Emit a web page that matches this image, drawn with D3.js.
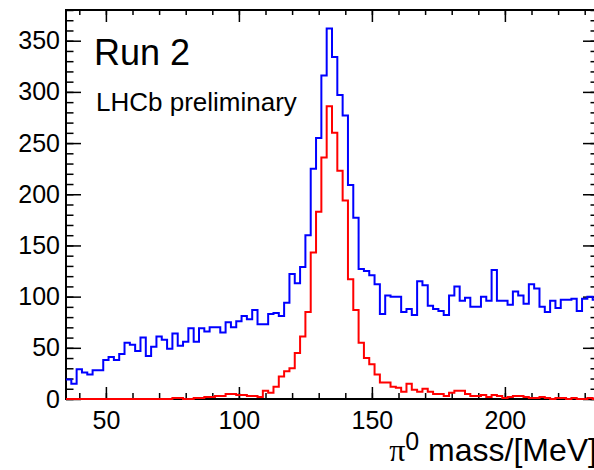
<!DOCTYPE html>
<html>
<head>
<meta charset="utf-8">
<script src="https://cdn.jsdelivr.net/npm/d3@7"></script>
<style>
  body { margin: 0; background: #fff; }
  svg { display: block; }
  .tick text { font-family: "Liberation Sans", Arial, sans-serif; fill: #000; }
  .tick line { stroke: #000; stroke-width: 1.5; }
</style>
</head>
<body>
<div id="chart"></div>
<script>
// Histogram bins: 2 MeV wide, low edges from 35 to 233 MeV
const binEdges = d3.range(35, 235, 2);

// blue histogram (all candidates), counts per bin
const histBlue = [
  19, 15, 29, 26, 24, 28, 28, 38, 41, 38,
  44, 55, 53, 47, 60, 42, 51, 61, 58, 49,
  64, 52, 56, 69, 56, 69, 66, 70, 70, 65,
  75, 70, 76, 81, 78, 87, 73, 73, 83, 84,
  81, 94, 122, 113, 129, 160, 225, 255, 316, 362,
  334, 297, 277, 209, 177, 127, 125, 121, 112, 83,
  101, 100, 100, 85, 88, 82, 115, 111, 91, 88,
  86, 82, 101, 110, 96, 99, 90, 90, 100, 96,
  126, 96, 96, 92, 105, 101, 93, 112, 108, 90,
  85, 96, 89, 97, 97, 98, 86, 98, 100, 97
];

// red histogram (matched), counts per bin
const histRed = [
  0, 0, 0, 0, 0, 0, 0, 0, 0, 0,
  0, 0, 0, 0, 0, 0, 0, 0, 0, 0,
  1, 1, 0, 0, 1, 1, 2, 2, 3, 3,
  5, 5, 4, 4, 3, 3, 2, 8, 6, 12,
  22, 27, 30, 45, 61, 85, 143, 183, 236, 286,
  260, 223, 194, 117, 87, 55, 40, 34, 24, 16,
  16, 12, 11, 7, 15, 9, 7, 10, 7, 5,
  5, 3, 6, 8, 8, 5, 3, 3, 4, 2,
  4, 3, 1, 2, 3, 3, 2, 1, 1, 2,
  1, 0, 1, 1, 0, 1, 0, 0, 1, 0
];

const xMajor = [50, 100, 150, 200];
const xMinor = d3.range(40, 235, 10);
const yMajor = [0, 50, 100, 150, 200, 250, 300, 350];
const yMinor = d3.range(0, 381, 10);

const width = 594, height = 470;
const frame = {left: 66, top: 10, right: 598, bottom: 399};

const svg = d3.select("#chart").append("svg")
    .attr("width", width)
    .attr("height", height);

const x = d3.scaleLinear().domain([35, 235]).range([frame.left, frame.right]);
const y = d3.scaleLinear().domain([0, 380]).range([frame.bottom, frame.top]);

const gAxes = svg.append("g");

// bottom axis: labels + major ticks pointing inward
gAxes.append("g")
    .attr("transform", `translate(0,${frame.bottom})`)
    .call(d3.axisBottom(x).tickValues(xMajor).tickSizeInner(-12).tickSizeOuter(0).tickPadding(12))
    .call(g => g.select(".domain").remove())
    .call(g => g.selectAll("text").style("font-size", "25px"));
gAxes.append("g")
    .attr("transform", `translate(0,${frame.bottom})`)
    .call(d3.axisBottom(x).tickValues(xMinor).tickSizeInner(-6).tickSizeOuter(0).tickFormat(""))
    .call(g => g.select(".domain").remove());

// top axis mirror ticks
gAxes.append("g")
    .attr("transform", `translate(0,${frame.top})`)
    .call(d3.axisTop(x).tickValues(xMajor).tickSizeInner(-12).tickSizeOuter(0).tickFormat(""))
    .call(g => g.select(".domain").remove());
gAxes.append("g")
    .attr("transform", `translate(0,${frame.top})`)
    .call(d3.axisTop(x).tickValues(xMinor).tickSizeInner(-5).tickSizeOuter(0).tickFormat(""))
    .call(g => g.select(".domain").remove());

// left axis
gAxes.append("g")
    .attr("transform", `translate(${frame.left},0)`)
    .call(d3.axisLeft(y).tickValues(yMajor).tickSizeInner(-15).tickSizeOuter(0).tickPadding(6))
    .call(g => g.select(".domain").remove())
    .call(g => g.selectAll("text").style("font-size", "25px"));
gAxes.append("g")
    .attr("transform", `translate(${frame.left},0)`)
    .call(d3.axisLeft(y).tickValues(yMinor).tickSizeInner(-7.5).tickSizeOuter(0).tickFormat(""))
    .call(g => g.select(".domain").remove());

// right axis mirror ticks
gAxes.append("g")
    .attr("transform", `translate(${frame.right},0)`)
    .call(d3.axisRight(y).tickValues(yMajor).tickSizeInner(-15).tickSizeOuter(0).tickFormat(""))
    .call(g => g.select(".domain").remove());
gAxes.append("g")
    .attr("transform", `translate(${frame.right},0)`)
    .call(d3.axisRight(y).tickValues(yMinor).tickSizeInner(-7.5).tickSizeOuter(0).tickFormat(""))
    .call(g => g.select(".domain").remove());

// frame
svg.append("rect")
    .attr("x", frame.left)
    .attr("y", frame.top)
    .attr("width", frame.right - frame.left)
    .attr("height", frame.bottom - frame.top)
    .style("fill", "none")
    .style("stroke", "#000")
    .style("stroke-width", 2);

// step histograms
const stepLine = d3.line()
    .x(d => x(d[0]))
    .y(d => y(d[1]))
    .curve(d3.curveStepAfter);

function histPoints(vals) {
    const pts = binEdges.map((e, i) => [e, vals[i]]);
    pts.push([binEdges[binEdges.length - 1] + 2, vals[vals.length - 1]]);
    return pts;
}

const series = [
    {vals: histBlue, colour: "#0000ff"},
    {vals: histRed, colour: "#ff0000"}
];

svg.append("g").selectAll("path")
    .data(series)
    .join("path")
    .attr("d", d => stepLine(histPoints(d.vals)))
    .style("fill", "none")
    .style("stroke", d => d.colour)
    .style("stroke-width", 2);

// labels
svg.append("text")
    .attr("x", 94)
    .attr("y", 65)
    .style("font-family", "'Liberation Sans', Arial, sans-serif")
    .style("font-size", "36px")
    .text("Run 2");

svg.append("text")
    .attr("x", 96)
    .attr("y", 111)
    .style("font-family", "'Liberation Sans', Arial, sans-serif")
    .style("font-size", "26px")
    .text("LHCb preliminary");

// x axis title (right end sits under the frame edge, as in the original)
const xTitle = svg.append("text")
    .attr("x", 597)
    .attr("y", 461)
    .attr("text-anchor", "end")
    .style("font-family", "'Liberation Sans', Arial, sans-serif")
    .style("font-size", "32px");
xTitle.append("tspan")
    .style("font-family", "'Liberation Serif', serif")
    .text("π");
xTitle.append("tspan")
    .attr("dy", -11)
    .style("font-size", "25px")
    .text("0");
xTitle.append("tspan")
    .attr("dy", 11)
    .text(" mass/[MeV]");
</script>
</body>
</html>
